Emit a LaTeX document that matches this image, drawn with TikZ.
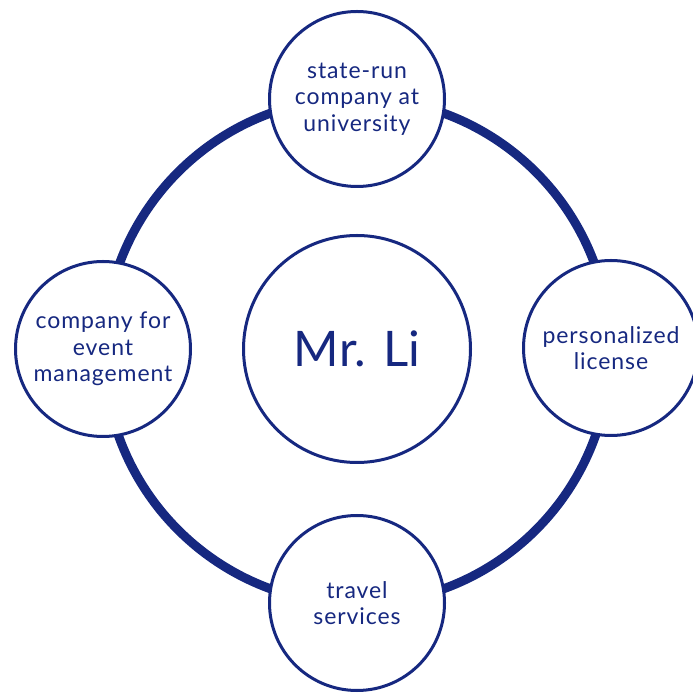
\documentclass[tikz,border=0pt]{standalone}
\usepackage{fontspec}
\setmainfont{Lato}
\newfontfamily\satfont{Lato}[LetterSpace=4]
\definecolor{navy}{RGB}{22,40,128}

\begin{document}
\begin{tikzpicture}[x=1pt,y=1pt,
    hub/.style={circle,draw=navy,line width=3pt,fill=white,minimum size=227pt,
        text=navy,font=\fontsize{49}{60}\selectfont},
    sat/.style={circle,draw=navy,line width=3pt,fill=white,minimum size=175pt,
        text=navy,align=center,font=\satfont\fontsize{23}{26.5}\selectfont}]
    \useasboundingbox (0,0) rectangle (693,693);
    \draw[navy,line width=9pt] (357,342) circle (253);
    \node[hub] (li) at (357,344) {Mr. Li};
    \node[sat] (univ) at (357,594) {state-run\\company at\\university};
    \node[sat] (event) at (103,344) {company for\\event\\management};
    \node[sat] (license) at (611,345) {personalized\\license};
    \node[sat] (travel) at (357,90) {travel\\services};
  \end{tikzpicture}
\end{document}
